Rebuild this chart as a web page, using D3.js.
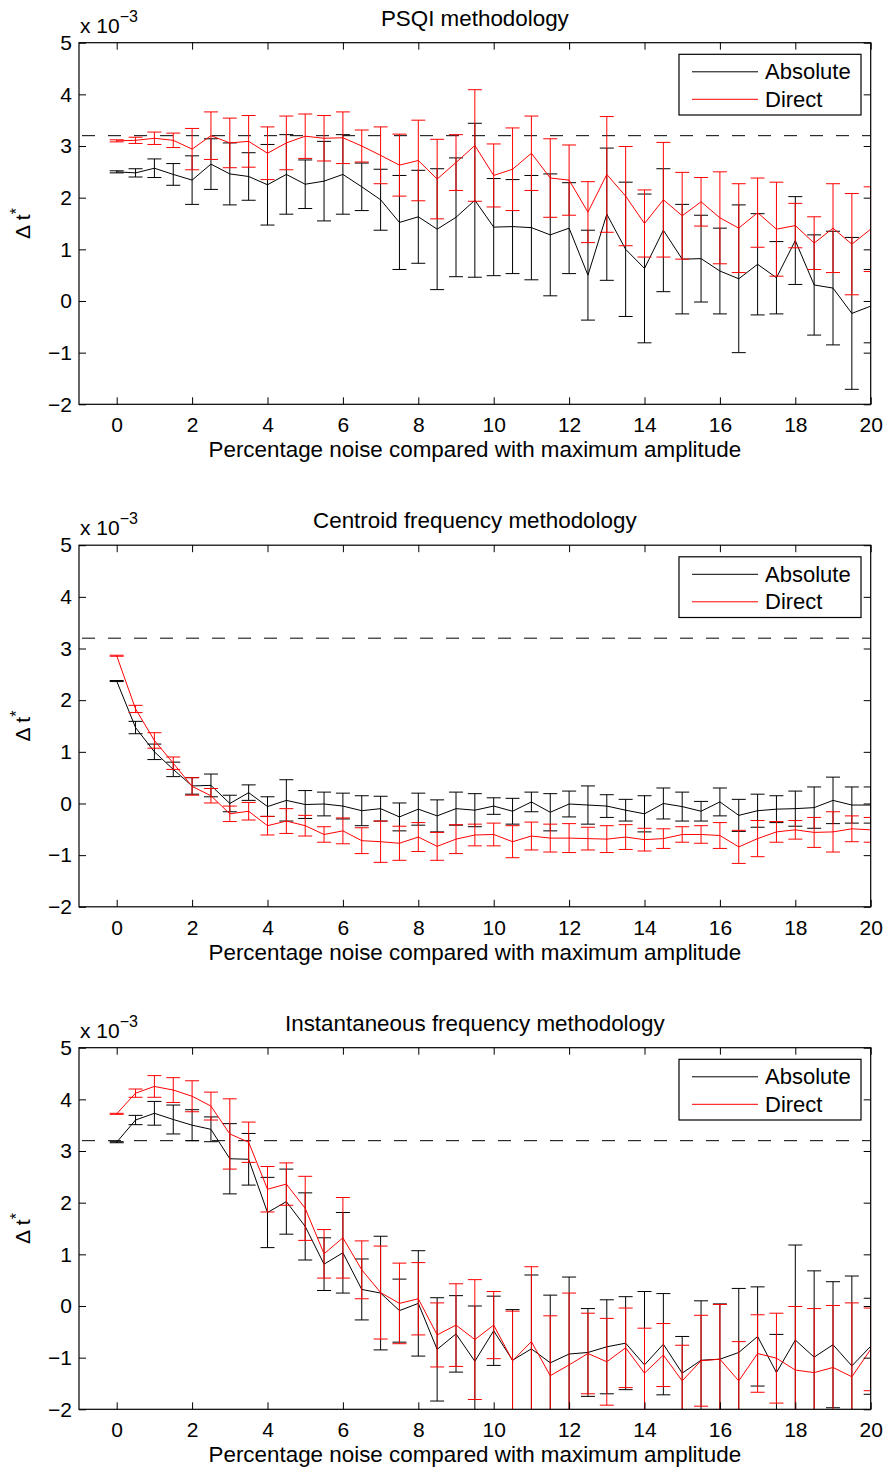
<!DOCTYPE html>
<html>
<head>
<meta charset="utf-8">
<script src="https://cdn.jsdelivr.net/npm/d3@7/dist/d3.min.js"></script>
<style>
  html, body { margin: 0; padding: 0; background: #fff; }
  svg { display: block; }
  text { font-family: "Liberation Sans", Arial, Helvetica, sans-serif; fill: #000; }
</style>
</head>
<body>
<svg id="chart" width="888" height="1468"></svg>
<script>
// Noise level (% of maximum amplitude) for every measurement
const noiseLevels = [0, 0.5, 1, 1.5, 2, 2.5, 3, 3.5, 4, 4.5, 5, 5.5, 6, 6.5, 7, 7.5, 8, 8.5, 9, 9.5,
  10, 10.5, 11, 11.5, 12, 12.5, 13, 13.5, 14, 14.5, 15, 15.5, 16, 16.5, 17, 17.5, 18, 18.5, 19, 19.5, 20];

const xTicks = [0, 2, 4, 6, 8, 10, 12, 14, 16, 18, 20];
const yTicks = [-2, -1, 0, 1, 2, 3, 4, 5];
const trueValue = 3.2;           // reference Δt* (×10^-3)
const seriesNames = ["Absolute", "Direct"];
const panelTitles = ["PSQI methodology", "Centroid frequency methodology", "Instantaneous frequency methodology"];

// PSQI methodology (×10^-3)
const psqiAbsMean = [2.50, 2.48, 2.57, 2.45, 2.34, 2.65, 2.46, 2.41, 2.25, 2.45, 2.26, 2.32, 2.45, 2.21, 1.96, 1.52, 1.63, 1.39, 1.62, 1.95,
  1.43, 1.44, 1.42, 1.28, 1.41, 0.50, 1.68, 1.00, 0.63, 1.37, 0.81, 0.82, 0.58, 0.43, 0.71, 0.45, 1.17, 0.31, 0.25, -0.24, -0.10];
const psqiAbsErr = [0.02, 0.08, 0.18, 0.21, 0.47, 0.49, 0.60, 0.46, 0.78, 0.77, 0.47, 0.77, 0.77, 0.46, 0.59, 0.91, 0.90, 1.17, 1.15, 1.49,
  0.94, 0.91, 1.01, 1.18, 0.88, 0.87, 1.28, 1.30, 1.44, 1.19, 1.06, 0.84, 0.83, 1.43, 0.98, 0.70, 0.85, 0.97, 1.10, 1.47, 0.71];
const psqiDirMean = [3.10, 3.11, 3.15, 3.11, 2.94, 3.20, 3.06, 3.09, 2.86, 3.06, 3.19, 3.15, 3.16, 3.00, 2.82, 2.63, 2.72, 2.36, 2.68, 3.01,
  2.43, 2.55, 2.86, 2.38, 2.34, 1.72, 2.45, 2.03, 1.50, 1.96, 1.65, 1.92, 1.61, 1.41, 1.71, 1.39, 1.46, 1.12, 1.41, 1.10, 1.39];
const psqiDirErr = [0.02, 0.06, 0.12, 0.14, 0.40, 0.46, 0.48, 0.50, 0.51, 0.52, 0.43, 0.44, 0.50, 0.31, 0.55, 0.60, 0.78, 0.77, 0.54, 1.08,
  0.61, 0.80, 0.72, 0.76, 0.68, 0.59, 1.12, 0.96, 0.65, 1.11, 0.84, 0.47, 0.89, 0.86, 0.67, 0.91, 0.43, 0.51, 0.86, 0.98, 0.82];

// Centroid frequency methodology (×10^-3)
const centAbsMean = [2.37, 1.47, 1.00, 0.66, 0.34, 0.35, 0.00, 0.21, -0.06, 0.06, -0.02, -0.01, -0.05, -0.14, -0.10, -0.26, -0.11, -0.24, -0.10, -0.13,
  -0.05, -0.15, 0.03, -0.17, -0.01, -0.03, -0.05, -0.13, -0.20, 0.00, -0.06, -0.15, 0.03, -0.23, -0.14, -0.11, -0.10, -0.08, 0.06, -0.03, -0.03];
const centAbsErr = [0.01, 0.12, 0.15, 0.14, 0.16, 0.22, 0.16, 0.15, 0.19, 0.40, 0.27, 0.23, 0.25, 0.29, 0.24, 0.27, 0.31, 0.31, 0.32, 0.32,
  0.16, 0.25, 0.19, 0.36, 0.25, 0.37, 0.22, 0.21, 0.35, 0.30, 0.28, 0.19, 0.27, 0.31, 0.32, 0.26, 0.34, 0.40, 0.45, 0.35, 0.35];
const centDirMean = [2.86, 1.83, 1.22, 0.78, 0.33, 0.15, -0.20, -0.15, -0.43, -0.34, -0.43, -0.60, -0.53, -0.72, -0.74, -0.77, -0.65, -0.83, -0.69, -0.61,
  -0.60, -0.74, -0.63, -0.67, -0.67, -0.68, -0.69, -0.65, -0.70, -0.68, -0.60, -0.60, -0.62, -0.84, -0.68, -0.55, -0.51, -0.56, -0.55, -0.49, -0.51];
const centDirErr = [0.01, 0.07, 0.15, 0.12, 0.17, 0.14, 0.15, 0.17, 0.18, 0.24, 0.20, 0.15, 0.25, 0.25, 0.40, 0.33, 0.28, 0.27, 0.28, 0.21,
  0.22, 0.31, 0.27, 0.27, 0.28, 0.22, 0.26, 0.24, 0.22, 0.19, 0.15, 0.17, 0.25, 0.32, 0.35, 0.20, 0.18, 0.29, 0.39, 0.25, 0.24];

// Instantaneous frequency methodology (×10^-3)
const instAbsMean = [3.17, 3.60, 3.73, 3.61, 3.50, 3.42, 2.85, 2.84, 1.81, 2.02, 1.54, 0.81, 1.03, 0.32, 0.25, -0.09, 0.05, -0.84, -0.54, -1.07,
  -0.48, -1.05, -0.83, -1.10, -0.93, -0.90, -0.79, -0.72, -1.14, -0.74, -1.30, -1.05, -1.03, -0.90, -0.59, -1.29, -0.66, -0.99, -0.75, -1.16, -0.78];
const instAbsErr = [0.01, 0.09, 0.23, 0.28, 0.30, 0.24, 0.68, 0.50, 0.68, 0.63, 0.65, 0.51, 0.78, 0.59, 1.10, 0.61, 1.02, 1.00, 0.74, 1.07,
  0.67, 0.98, 1.43, 1.31, 1.49, 0.85, 0.91, 0.90, 1.42, 0.98, 0.71, 1.15, 1.07, 1.24, 0.96, 0.74, 1.84, 1.67, 1.22, 1.74, 0.93];
const instDirMean = [3.72, 4.12, 4.25, 4.18, 4.06, 3.87, 3.33, 3.17, 2.26, 2.36, 1.89, 1.01, 1.32, 0.70, 0.26, 0.05, 0.14, -0.56, -0.37, -0.65,
  -0.37, -1.06, -0.69, -1.35, -1.14, -0.92, -1.08, -0.81, -1.30, -0.95, -1.45, -1.06, -1.03, -1.45, -0.92, -1.01, -1.24, -1.29, -1.19, -1.37, -0.84];
const instDirErr = [0.01, 0.08, 0.21, 0.24, 0.30, 0.27, 0.68, 0.39, 0.44, 0.41, 0.62, 0.47, 0.78, 0.56, 0.90, 0.78, 0.70, 0.62, 0.80, 1.16,
  0.65, 0.96, 1.45, 1.16, 1.39, 0.78, 0.84, 0.77, 0.87, 0.61, 0.69, 0.88, 1.06, 0.76, 0.75, 0.87, 1.23, 1.24, 1.20, 1.43, 0.80];

const panels = [
  { title: panelTitles[0], series: [ { name: seriesNames[0], mean: psqiAbsMean, err: psqiAbsErr, color: "#000" },
                                     { name: seriesNames[1], mean: psqiDirMean, err: psqiDirErr, color: "#ff0000" } ] },
  { title: panelTitles[1], series: [ { name: seriesNames[0], mean: centAbsMean, err: centAbsErr, color: "#000" },
                                     { name: seriesNames[1], mean: centDirMean, err: centDirErr, color: "#ff0000" } ] },
  { title: panelTitles[2], series: [ { name: seriesNames[0], mean: instAbsMean, err: instAbsErr, color: "#000" },
                                     { name: seriesNames[1], mean: instDirMean, err: instDirErr, color: "#ff0000" } ] }
];

// Layout
const axLeft = 79, axRight = 870.7, axHeight = 361.6, firstTop = 42.7, panelStep = 502.5;
const tickLen = 7, capHalf = 7;

const svg = d3.select("#chart");
const x = d3.scaleLinear().domain([-1, 20]).range([axLeft, axRight]);
const yFmt = d3.format("d");

panels.forEach((p, i) => {
  const top = firstTop + i * panelStep;
  const bottom = top + axHeight;
  const y = d3.scaleLinear().domain([-2, 5]).range([bottom, top]);
  const g = svg.append("g");

  const clipId = "clip" + i;
  svg.append("defs").append("clipPath").attr("id", clipId)
    .append("rect").attr("x", axLeft).attr("y", top).attr("width", axRight - axLeft).attr("height", axHeight);

  const plot = g.append("g").attr("clip-path", `url(#${clipId})`);

  // reference value
  plot.append("line")
    .attr("x1", axLeft).attr("x2", axRight)
    .attr("y1", y(trueValue)).attr("y2", y(trueValue))
    .attr("stroke", "#000").attr("stroke-width", 1).attr("stroke-dasharray", "13,13")
    .attr("stroke-dashoffset", -3);

  p.series.forEach(s => {
    const pts = noiseLevels.map((n, k) => ({ n, m: s.mean[k], e: s.err[k] }));
    const sg = plot.append("g").attr("stroke", s.color).attr("fill", "none").attr("stroke-width", 1);
    sg.append("path")
      .attr("d", d3.line().x(d => x(d.n)).y(d => y(d.m))(pts));
    const bars = sg.selectAll("g.eb").data(pts).join("g").attr("class", "eb");
    bars.append("line")
      .attr("x1", d => x(d.n)).attr("x2", d => x(d.n))
      .attr("y1", d => y(d.m + d.e)).attr("y2", d => y(d.m - d.e));
    bars.append("line")
      .attr("x1", d => x(d.n) - capHalf).attr("x2", d => x(d.n) + capHalf)
      .attr("y1", d => y(d.m + d.e)).attr("y2", d => y(d.m + d.e));
    bars.append("line")
      .attr("x1", d => x(d.n) - capHalf).attr("x2", d => x(d.n) + capHalf)
      .attr("y1", d => y(d.m - d.e)).attr("y2", d => y(d.m - d.e));
  });

  // axes (inward ticks on all four sides)
  const bAxis = g.append("g").attr("transform", `translate(0,${bottom})`)
    .call(d3.axisBottom(x).tickValues(xTicks).tickSize(-tickLen).tickSizeOuter(0).tickPadding(12));
  const tAxis = g.append("g").attr("transform", `translate(0,${top})`)
    .call(d3.axisTop(x).tickValues(xTicks).tickSize(-tickLen).tickSizeOuter(0).tickFormat(""));
  const lAxis = g.append("g").attr("transform", `translate(${axLeft},0)`)
    .call(d3.axisLeft(y).tickValues(yTicks).tickFormat(yFmt).tickSize(-tickLen).tickSizeOuter(0).tickPadding(7));
  const rAxis = g.append("g").attr("transform", `translate(${axRight},0)`)
    .call(d3.axisRight(y).tickValues(yTicks).tickSize(-tickLen).tickSizeOuter(0).tickFormat(""));
  [bAxis, tAxis, lAxis, rAxis].forEach(a => {
    a.select(".domain").remove();
    a.selectAll("line").attr("stroke", "#000");
    a.selectAll("text").attr("font-size", 21).attr("font-family", null);
  });
  bAxis.selectAll("text").attr("dy", null).attr("y", 28);

  g.append("rect").attr("x", axLeft).attr("y", top)
    .attr("width", axRight - axLeft).attr("height", axHeight)
    .attr("fill", "none").attr("stroke", "#000").attr("stroke-width", 1.2);

  // title and labels
  g.append("text").attr("x", (axLeft + axRight) / 2).attr("y", top - 17)
    .attr("text-anchor", "middle").attr("font-size", 22.4).text(p.title);
  g.append("text").attr("x", (axLeft + axRight) / 2).attr("y", bottom + 53)
    .attr("text-anchor", "middle").attr("font-size", 22.4).text("Percentage noise compared with maximum amplitude");

  const yl = g.append("text")
    .attr("transform", `translate(30,${(top + bottom) / 2}) rotate(-90)`)
    .attr("text-anchor", "middle").attr("font-size", 21);
  yl.append("tspan").text("Δ t");
  yl.append("tspan").attr("dy", -8).attr("font-size", 16).text("*");

  const ex = g.append("text").attr("x", 80).attr("y", top - 10).attr("font-size", 21);
  ex.append("tspan").text("x 10");
  ex.append("tspan").attr("dy", -11).attr("font-size", 16).text("−3");

  // legend
  const lg = g.append("g").attr("transform", `translate(679,${top + 11.6})`);
  lg.append("rect").attr("width", 182).attr("height", 60.7)
    .attr("fill", "#fff").attr("stroke", "#000").attr("stroke-width", 1.2);
  p.series.forEach((s, j) => {
    const ly = 17.5 + j * 27.5;
    lg.append("line").attr("x1", 13).attr("x2", 79).attr("y1", ly).attr("y2", ly)
      .attr("stroke", s.color).attr("stroke-width", 1);
    lg.append("text").attr("x", 86).attr("y", ly + 7.5).attr("font-size", 22).text(s.name);
  });
});
</script>
</body>
</html>
